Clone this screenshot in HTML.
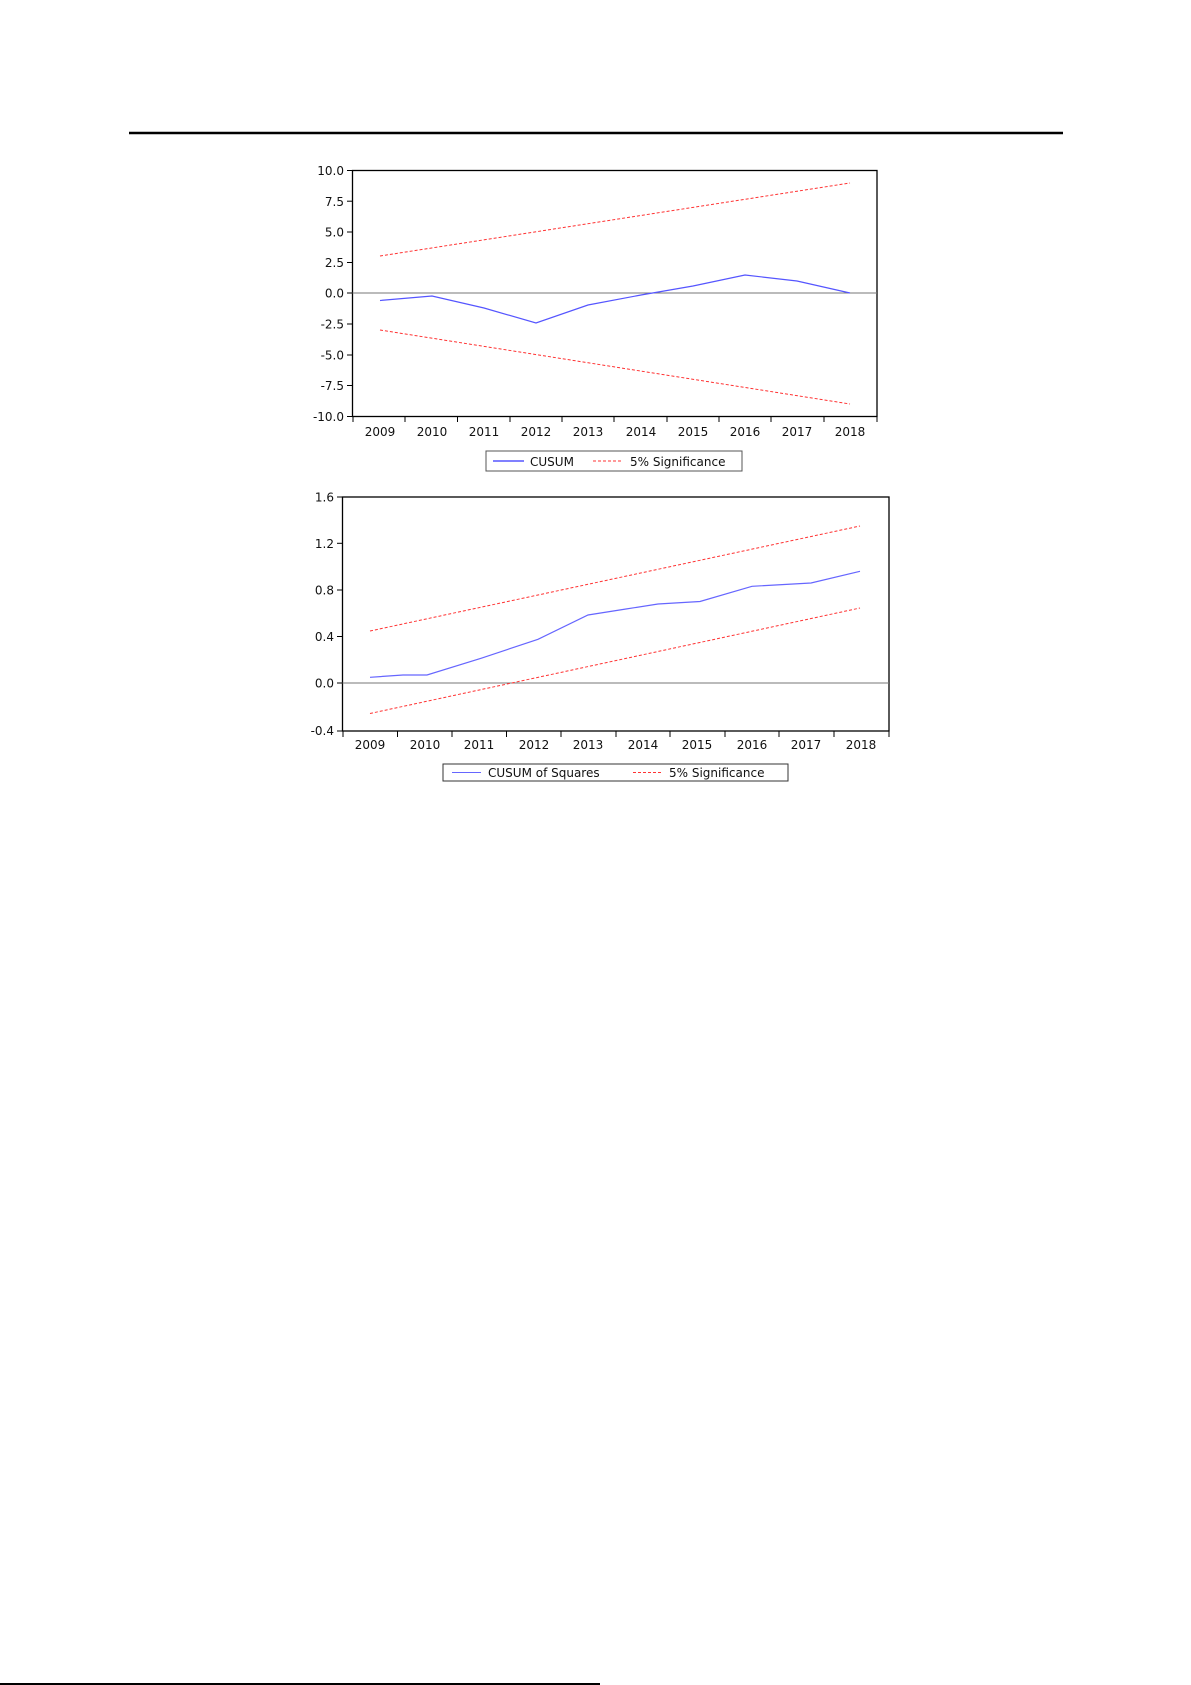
<!DOCTYPE html>
<html><head><meta charset="utf-8"><style>
html,body{margin:0;padding:0;background:#fff;}
svg{display:block;}
text{font-family:"DejaVu Sans","Liberation Sans",sans-serif;font-size:12px;fill:#111;}
</style></head><body>
<svg width="1191" height="1685" viewBox="0 0 1191 1685" xmlns="http://www.w3.org/2000/svg">
<rect width="1191" height="1685" fill="#fff"/>
<line x1="129" y1="133" x2="1063" y2="133" stroke="#000" stroke-width="2.5"/>

<!-- Chart 1 -->
<rect x="352.5" y="170.5" width="524.5" height="246" fill="none" stroke="#000" stroke-width="1.3"/>
<line x1="352.5" y1="293" x2="877" y2="293" stroke="#777" stroke-width="1"/>
<g stroke="#000" stroke-width="1">
<line x1="347" y1="170.5" x2="352.5" y2="170.5"/><line x1="347" y1="201.2" x2="352.5" y2="201.2"/>
<line x1="347" y1="232" x2="352.5" y2="232"/><line x1="347" y1="262.5" x2="352.5" y2="262.5"/>
<line x1="347" y1="293" x2="352.5" y2="293"/><line x1="347" y1="324" x2="352.5" y2="324"/>
<line x1="347" y1="355" x2="352.5" y2="355"/><line x1="347" y1="385.5" x2="352.5" y2="385.5"/>
<line x1="347" y1="416.5" x2="352.5" y2="416.5"/>
<line x1="353" y1="416.5" x2="353" y2="422"/><line x1="405" y1="416.5" x2="405" y2="422"/>
<line x1="457.5" y1="416.5" x2="457.5" y2="422"/><line x1="510" y1="416.5" x2="510" y2="422"/>
<line x1="562" y1="416.5" x2="562" y2="422"/><line x1="614" y1="416.5" x2="614" y2="422"/>
<line x1="667" y1="416.5" x2="667" y2="422"/><line x1="719" y1="416.5" x2="719" y2="422"/>
<line x1="771" y1="416.5" x2="771" y2="422"/><line x1="824" y1="416.5" x2="824" y2="422"/>
<line x1="877" y1="416.5" x2="877" y2="422"/>
</g>
<g text-anchor="end">
<text x="344" y="175">10.0</text><text x="344" y="206">7.5</text><text x="344" y="236.5">5.0</text>
<text x="344" y="267">2.5</text><text x="344" y="297.5">0.0</text><text x="344" y="328.5">-2.5</text>
<text x="344" y="359.5">-5.0</text><text x="344" y="390">-7.5</text><text x="344" y="421">-10.0</text>
</g>
<g text-anchor="middle">
<text x="380" y="436">2009</text><text x="432" y="436">2010</text><text x="484" y="436">2011</text>
<text x="536" y="436">2012</text><text x="588" y="436">2013</text><text x="641" y="436">2014</text>
<text x="693" y="436">2015</text><text x="745" y="436">2016</text><text x="797" y="436">2017</text>
<text x="850" y="436">2018</text>
</g>
<line x1="380" y1="256" x2="850" y2="183" stroke="#f33" stroke-width="1" stroke-dasharray="3,2"/>
<line x1="380" y1="330" x2="850" y2="404" stroke="#f33" stroke-width="1" stroke-dasharray="3,2"/>
<polyline fill="none" stroke="#55f" stroke-width="1.2" points="380,300.5 432,296 484,308 536,323 588,305 641,295 693,286 745,275 797,281 850,293"/>
<rect x="486" y="451" width="256" height="20" fill="#fff" stroke="#555" stroke-width="1"/>
<line x1="493" y1="461" x2="524" y2="461" stroke="#00f" stroke-width="1"/>
<text x="530" y="466">CUSUM</text>
<line x1="593" y1="461" x2="622" y2="461" stroke="#f33" stroke-width="1" stroke-dasharray="3,2"/>
<text x="630" y="466">5% Significance</text>

<!-- Chart 2 -->
<rect x="342.5" y="497" width="546.5" height="234" fill="none" stroke="#000" stroke-width="1.3"/>
<line x1="342.5" y1="683" x2="889" y2="683" stroke="#777" stroke-width="1"/>
<g stroke="#000" stroke-width="1">
<line x1="337" y1="497" x2="342.5" y2="497"/><line x1="337" y1="543.3" x2="342.5" y2="543.3"/>
<line x1="337" y1="590" x2="342.5" y2="590"/><line x1="337" y1="636.5" x2="342.5" y2="636.5"/>
<line x1="337" y1="683" x2="342.5" y2="683"/><line x1="337" y1="731" x2="342.5" y2="731"/>
<line x1="343" y1="731" x2="343" y2="737"/><line x1="397.5" y1="731" x2="397.5" y2="737"/>
<line x1="452" y1="731" x2="452" y2="737"/><line x1="506.5" y1="731" x2="506.5" y2="737"/>
<line x1="561" y1="731" x2="561" y2="737"/><line x1="616" y1="731" x2="616" y2="737"/>
<line x1="670" y1="731" x2="670" y2="737"/><line x1="725" y1="731" x2="725" y2="737"/>
<line x1="779" y1="731" x2="779" y2="737"/><line x1="834" y1="731" x2="834" y2="737"/>
<line x1="889" y1="731" x2="889" y2="737"/>
</g>
<g text-anchor="end">
<text x="334" y="501.5">1.6</text><text x="334" y="548">1.2</text><text x="334" y="594.5">0.8</text>
<text x="334" y="641">0.4</text><text x="334" y="687.5">0.0</text><text x="334" y="735">-0.4</text>
</g>
<g text-anchor="middle">
<text x="370" y="749">2009</text><text x="425" y="749">2010</text><text x="479" y="749">2011</text>
<text x="534" y="749">2012</text><text x="588" y="749">2013</text><text x="643" y="749">2014</text>
<text x="697" y="749">2015</text><text x="752" y="749">2016</text><text x="806" y="749">2017</text>
<text x="861" y="749">2018</text>
</g>
<line x1="370" y1="631" x2="860" y2="526" stroke="#f33" stroke-width="1" stroke-dasharray="3,2"/>
<line x1="370" y1="713.5" x2="860" y2="608" stroke="#f33" stroke-width="1" stroke-dasharray="3,2"/>
<polyline fill="none" stroke="#66f" stroke-width="1.2" points="370,677.3 403,675 427,675 481,658.3 538,639.3 588,615 626,609 658,604 700,601.5 752,586.3 811,583 860,571.3"/>
<rect x="443" y="764" width="345" height="17" fill="#fff" stroke="#333" stroke-width="1"/>
<line x1="452" y1="772.5" x2="481" y2="772.5" stroke="#66f" stroke-width="1"/>
<text x="488" y="777">CUSUM of Squares</text>
<line x1="633" y1="772.5" x2="662" y2="772.5" stroke="#f33" stroke-width="1" stroke-dasharray="3,2"/>
<text x="669" y="777">5% Significance</text>

<line x1="0" y1="1684" x2="600" y2="1684" stroke="#000" stroke-width="2"/>
</svg>
</body></html>
